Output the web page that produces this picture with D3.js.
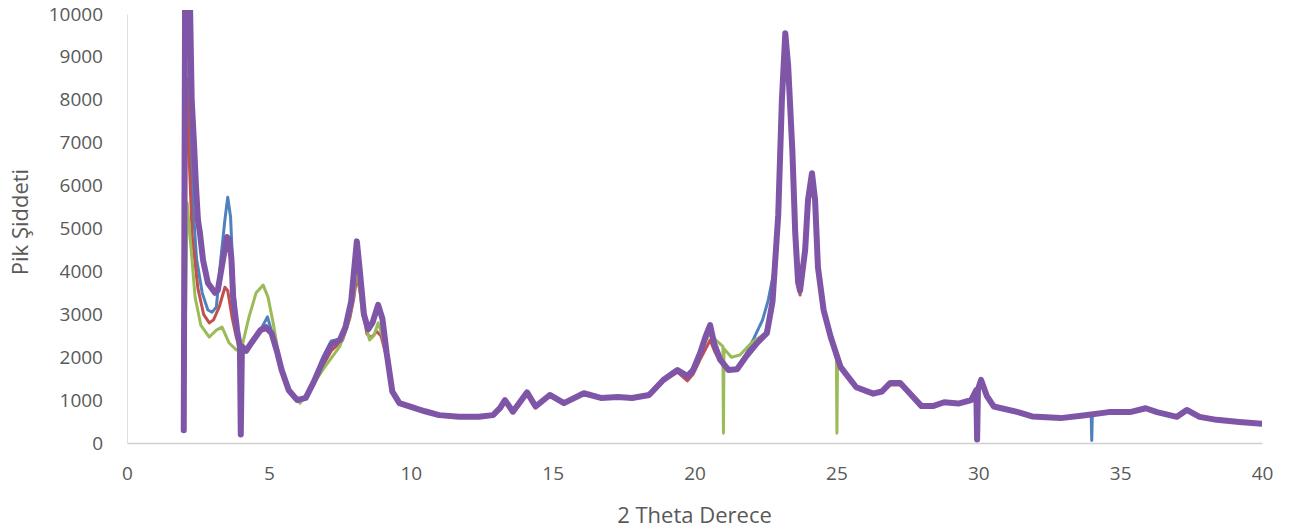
<!DOCTYPE html>
<html><head><meta charset="utf-8">
<script src="https://cdn.jsdelivr.net/npm/d3@7"></script>
<style>
body{margin:0;background:#fff;}
svg{display:block;}
text{font-family:"Open Sans","Noto Sans",sans-serif;fill:#595959;}
</style></head>
<body><svg id="chart" width="1291" height="531"></svg>
<script>
const xTicks = [0,5,10,15,20,25,30,35,40];
const yTicks = [0,1000,2000,3000,4000,5000,6000,7000,8000,9000,10000];
const xTitle = "2 Theta Derece";
const yTitle = "Pik Şiddeti";

const blueData = [[2.0,300],[2.04,11000],[2.15,11000],[2.22,7400],[2.32,5600],[2.45,4300],[2.65,3500],[2.85,3100],[3.0,3050],[3.15,3170],[3.3,4250],[3.45,5200],[3.55,5730],[3.65,5270],[3.75,3730],[3.88,2700],[4.0,2300],[4.2,2150],[4.4,2350],[4.7,2630],[4.95,2940],[5.1,2600],[5.3,2100],[5.45,1700],[5.7,1230],[6.0,1000],[6.3,1080],[6.6,1500],[6.9,2000],[7.2,2380],[7.5,2420],[7.7,2700],[7.9,3300],[8.0,4000],[8.1,4650],[8.2,4050],[8.35,3000],[8.5,2650],[8.65,2800],[8.85,3200],[9.0,2900],[9.15,2100],[9.35,1200],[9.6,930],[10.2,800],[10.5,740],[11.0,650],[11.7,610],[12.4,610],[12.9,650],[13.15,820],[13.32,1000],[13.6,730],[14.1,1180],[14.4,850],[14.9,1120],[15.4,930],[16.1,1160],[16.7,1050],[17.3,1070],[17.8,1050],[18.4,1120],[18.9,1470],[19.4,1700],[19.75,1560],[19.95,1700],[20.2,2100],[20.4,2500],[20.55,2750],[20.7,2300],[20.9,1950],[21.2,1700],[21.5,1750],[21.8,2050],[22.1,2450],[22.4,2870],[22.6,3330],[22.8,4000],[22.95,5300],[23.08,8000],[23.2,9500],[23.3,8800],[23.45,6800],[23.55,4900],[23.65,3800],[23.72,3600],[23.9,4500],[24.0,5660],[24.14,6250],[24.25,5660],[24.35,4100],[24.55,3100],[24.8,2470],[25.15,1770],[25.7,1300],[26.3,1150],[26.6,1200],[26.9,1400],[27.25,1400],[27.6,1150],[28.0,860],[28.4,860],[28.8,950],[29.3,920],[29.75,1000],[29.95,1230],[30.1,1470],[30.3,1100],[30.55,850],[31.4,720],[31.9,620],[32.9,580],[33.7,640],[33.98,650],[34.0,60],[34.02,660],[34.6,720],[35.35,720],[35.9,810],[36.3,720],[37.0,610],[37.35,770],[37.8,610],[38.4,540],[39.2,490],[40.0,450]];

const redData = [[2.0,300],[2.1,8500],[2.2,6500],[2.3,4800],[2.5,3600],[2.7,3000],[2.9,2800],[3.05,2870],[3.25,3170],[3.45,3630],[3.55,3550],[3.7,2940],[3.85,2470],[4.0,2250],[4.2,2150],[4.4,2300],[4.7,2600],[4.95,2650],[5.1,2500],[5.3,2050],[5.45,1650],[5.7,1200],[6.0,980],[6.3,1030],[6.6,1400],[6.9,1800],[7.2,2150],[7.6,2400],[7.85,2900],[8.0,3400],[8.1,3900],[8.25,3400],[8.45,2550],[8.6,2450],[8.8,2600],[8.95,2500],[9.15,2000],[9.35,1200],[9.6,930],[10.2,800],[10.5,740],[11.0,650],[11.7,610],[12.4,610],[12.9,650],[13.15,820],[13.32,1000],[13.6,730],[14.1,1180],[14.4,850],[14.9,1120],[15.4,930],[16.1,1160],[16.7,1050],[17.3,1070],[17.8,1050],[18.4,1120],[18.9,1450],[19.4,1650],[19.75,1450],[19.95,1600],[20.2,1950],[20.4,2200],[20.55,2400],[20.7,2150],[20.9,1900],[21.2,1700],[21.5,1720],[21.8,2000],[22.2,2330],[22.55,2560],[22.75,3300],[22.95,5300],[23.08,8000],[23.2,9500],[23.3,8800],[23.45,6800],[23.55,4900],[23.65,3700],[23.72,3450],[23.9,4500],[24.0,5600],[24.14,6200],[24.25,5600],[24.35,4100],[24.55,3100],[24.8,2470],[25.15,1770],[25.7,1300],[26.3,1150],[26.6,1200],[26.9,1350],[27.25,1350],[27.6,1150],[28.0,860],[28.4,860],[28.8,950],[29.3,920],[29.75,1000],[29.95,1230],[30.1,1470],[30.3,1100],[30.55,850],[31.4,720],[31.9,620],[32.9,580],[33.7,640],[34.6,720],[35.35,720],[35.9,810],[36.3,720],[37.0,610],[37.35,770],[37.8,610],[38.4,540],[39.2,490],[40.0,450]];

const greenData = [[2.0,300],[2.12,5600],[2.25,4600],[2.4,3400],[2.6,2750],[2.9,2470],[3.15,2630],[3.35,2700],[3.6,2330],[3.85,2170],[4.05,2240],[4.3,2940],[4.55,3500],[4.8,3680],[4.97,3400],[5.15,2800],[5.4,1860],[5.75,1165],[6.1,930],[6.5,1300],[7.0,1800],[7.5,2250],[7.8,2800],[8.0,3500],[8.1,4200],[8.3,3000],[8.55,2400],[8.7,2500],[8.85,2800],[9.0,2500],[9.15,2000],[9.35,1200],[9.6,930],[10.2,800],[10.5,740],[11.0,650],[11.7,610],[12.4,610],[12.9,650],[13.15,820],[13.32,1000],[13.6,730],[14.1,1180],[14.4,850],[14.9,1120],[15.4,930],[16.1,1160],[16.7,1050],[17.3,1070],[17.8,1050],[18.4,1120],[18.9,1470],[19.4,1680],[19.75,1540],[19.95,1680],[20.2,2050],[20.4,2400],[20.55,2550],[20.75,2400],[21.0,2250],[21.02,230],[21.04,2200],[21.3,2000],[21.6,2050],[22.0,2330],[22.5,2560],[22.75,3300],[22.95,5300],[23.08,8000],[23.2,9500],[23.3,8800],[23.45,6800],[23.55,4900],[23.65,3750],[23.72,3550],[23.9,4500],[24.0,5600],[24.14,6200],[24.25,5600],[24.35,4100],[24.55,3100],[24.8,2470],[25.0,1950],[25.02,230],[25.04,1900],[25.15,1770],[25.7,1300],[26.3,1150],[26.6,1200],[26.9,1420],[27.25,1420],[27.6,1150],[28.0,860],[28.4,860],[28.8,950],[29.3,920],[29.75,1000],[29.95,1230],[30.1,1470],[30.3,1100],[30.55,850],[31.4,720],[31.9,620],[32.9,580],[33.7,640],[34.6,720],[35.35,720],[35.9,810],[36.3,720],[37.0,610],[37.35,770],[37.8,610],[38.4,540],[39.2,490],[40.0,450]];

const purpleData = [[2.0,300],[2.05,11000],[2.2,11000],[2.28,8000],[2.36,7000],[2.43,6000],[2.5,5200],[2.57,4900],[2.68,4260],[2.85,3730],[3.1,3500],[3.2,3560],[3.38,4260],[3.52,4800],[3.6,4750],[3.68,4300],[3.74,3400],[3.88,2630],[3.98,2240],[4.01,200],[4.05,2250],[4.2,2150],[4.4,2350],[4.7,2630],[4.9,2700],[5.1,2550],[5.3,2100],[5.45,1700],[5.7,1230],[6.0,1000],[6.3,1050],[6.6,1450],[6.9,1900],[7.2,2300],[7.5,2400],[7.7,2700],[7.9,3300],[8.0,4000],[8.1,4700],[8.2,4050],[8.35,3000],[8.5,2650],[8.65,2800],[8.85,3220],[9.0,2900],[9.15,2100],[9.35,1200],[9.6,930],[10.2,800],[10.5,740],[11.0,650],[11.7,610],[12.4,610],[12.9,650],[13.15,820],[13.32,1000],[13.6,730],[14.1,1180],[14.4,850],[14.9,1120],[15.4,930],[16.1,1160],[16.7,1050],[17.3,1070],[17.8,1050],[18.4,1120],[18.9,1470],[19.4,1700],[19.75,1560],[19.95,1700],[20.2,2100],[20.4,2500],[20.55,2750],[20.7,2300],[20.9,1950],[21.2,1700],[21.5,1720],[21.8,2000],[22.2,2330],[22.55,2560],[22.75,3300],[22.95,5300],[23.08,8000],[23.2,9550],[23.3,8800],[23.45,6800],[23.55,4900],[23.65,3750],[23.72,3550],[23.9,4500],[24.0,5660],[24.14,6290],[24.25,5660],[24.35,4100],[24.55,3100],[24.8,2470],[25.15,1770],[25.7,1300],[26.3,1150],[26.6,1200],[26.9,1400],[27.25,1400],[27.6,1150],[28.0,860],[28.4,860],[28.8,950],[29.3,920],[29.75,1000],[29.93,1230],[29.96,80],[29.99,1250],[30.1,1470],[30.3,1100],[30.55,850],[31.4,720],[31.9,620],[32.9,580],[33.7,640],[34.6,720],[35.35,720],[35.9,810],[36.3,720],[37.0,610],[37.35,770],[37.8,610],[38.4,540],[39.2,490],[40.0,450]];

const seriesList = [
  {data: blueData, color: "#4f81bd", width: 3},
  {data: redData, color: "#c0504d", width: 3},
  {data: greenData, color: "#9bbb59", width: 3},
  {data: purpleData, color: "#7f55a8", width: 6}
];

const svg = d3.select("#chart");
const m = {left:127, right:29, top:14, bottom:88};
const W = 1291, H = 531;
const x = d3.scaleLinear().domain([0,40]).range([m.left, W-m.right]);
const y = d3.scaleLinear().domain([0,10000]).range([H-m.bottom, m.top]);

svg.append("defs").append("clipPath").attr("id","clip")
  .append("rect").attr("x", m.left).attr("y", m.top-4).attr("width", W-m.left-m.right).attr("height", H-m.bottom-m.top+4);

const xAxis = svg.append("g").attr("transform",`translate(0,${y(0)})`)
  .call(d3.axisBottom(x).tickValues(xTicks).tickSize(0).tickPadding(24));
xAxis.select(".domain").attr("stroke","#d0d0d0").attr("stroke-width",1.5);
xAxis.selectAll("text").style("font-size","19px").attr("fill","#595959");

const yAxis = svg.append("g").attr("transform",`translate(${x(0)},0)`)
  .call(d3.axisLeft(y).tickValues(yTicks).tickSize(0).tickPadding(24).tickFormat(d3.format("d")));
yAxis.select(".domain").attr("stroke","#e0e0e0").attr("stroke-width",1);
yAxis.selectAll("text").style("font-size","19px").attr("fill","#595959");

const line = d3.line().x(d=>x(d[0])).y(d=>y(d[1]));
const g = svg.append("g").attr("clip-path","url(#clip)");
seriesList.forEach(s=>{
  g.append("path").datum(s.data).attr("d", line).attr("fill","none")
    .attr("stroke", s.color).attr("stroke-width", s.width)
    .attr("stroke-linejoin","round").attr("stroke-linecap","round");
});

svg.append("text").attr("x", (x(0)+x(40))/2).attr("y", 523).attr("text-anchor","middle")
  .style("font-size","22px").text(xTitle);
svg.append("text").attr("transform",`translate(28,${222}) rotate(-90)`)
  .attr("text-anchor","middle").style("font-size","22px").text(yTitle);
</script></body></html>
